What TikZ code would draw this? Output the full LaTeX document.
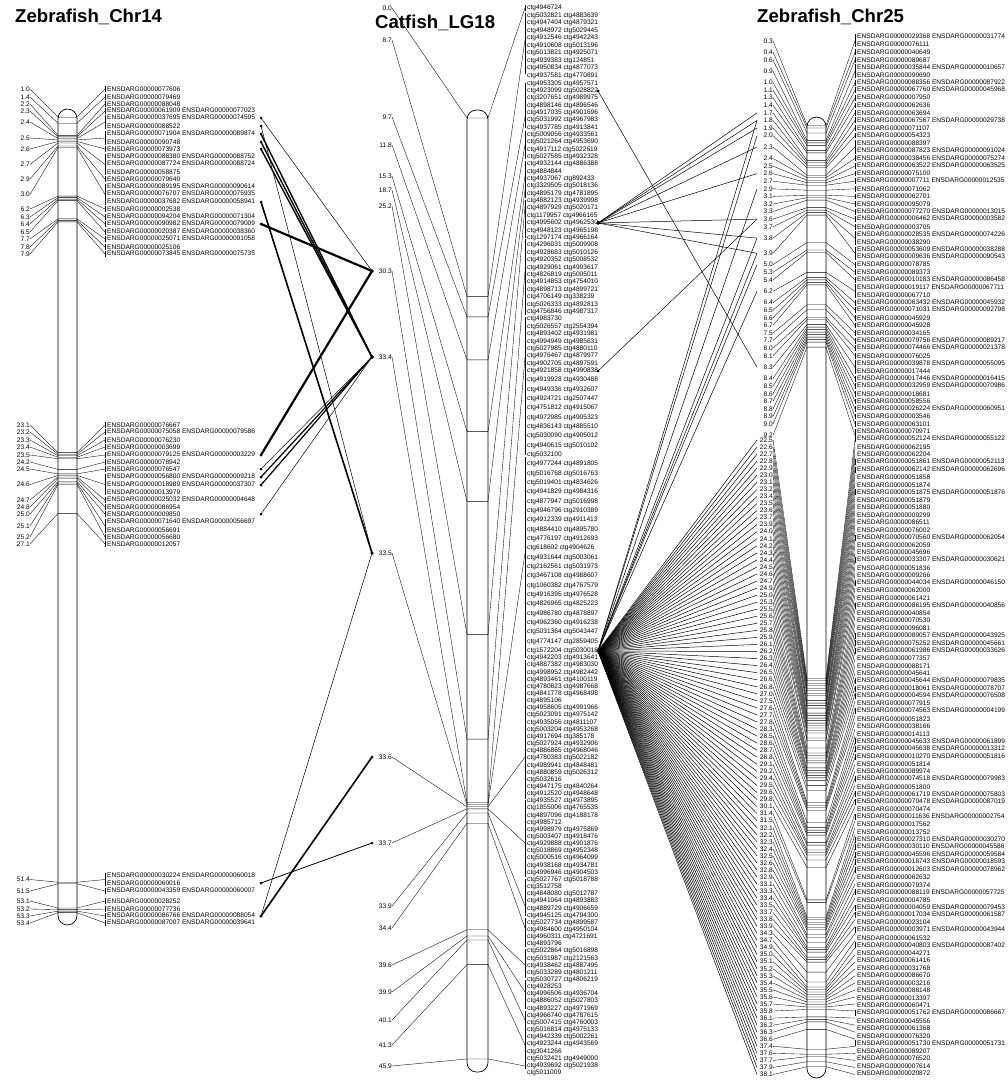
\documentclass[tikz,border=0pt]{standalone}
\usepackage{fontspec}
\setmainfont{Liberation Sans}
\usetikzlibrary{positioning,calc}
\newcommand{\ensd}[1]{ENSDARG00000#1}
\newcommand{\enp}[2]{\llap{\rule[-1.3pt]{0.35pt}{6pt}\hspace{1.6pt}}ENSDARG00000#1 ENSDARG00000#2}

\begin{document}
\begin{tikzpicture}[x=1pt,y=-1pt,
    gene/.style={anchor=west, inner sep=0pt, font=\fontsize{6.6}{7}\selectfont},
    cmpos/.style={anchor=east, inner sep=0pt, font=\fontsize{6.6}{7}\selectfont},
    chrtitle/.style={anchor=west, inner sep=0pt, font=\fontsize{18.6}{20}\selectfont\bfseries},
    chrbody/.style={draw, line width=0.7pt, rounded corners=9.5pt},
    fanline/.style={line width=0.35pt},
    synline/.style={line width=0.5pt},
    syndot/.style={circle, fill=black, inner sep=0pt, minimum size=3pt}
  ]
  \useasboundingbox (0,0) rectangle (1008,1081);

  % Titles
  \node[chrtitle] (t14) at (15,17) {Zebrafish\_Chr14};
  \node[chrtitle] (t18) at (375,23) {Catfish\_LG18};
  \node[chrtitle] (t25) at (757,17) {Zebrafish\_Chr25};

  % dot columns
  \coordinate (dotL) at (261,0);
  \coordinate (dotM) at (372,0);
  \coordinate (dotMR) at (598,0);
  \coordinate (dotR) at (757,0);

  %%% Zebrafish Chr14
  \draw[chrbody] (58,109) rectangle (77,925);
  \foreach \i/\y/\t in {
    1/89/{\ensd{077606}}, 2/97/{\ensd{079469}}, 3/104/{\ensd{088048}},
    4/111/{\enp{061909}{077023}}, 5/118/{\enp{037695}{074595}},
    6/126/{\ensd{088522}}, 7/134/{\enp{071904}{089874}}, 8/142/{\ensd{090748}},
    9/149/{\ensd{073973}}, 10/157/{\enp{088380}{088752}},
    11/164/{\enp{087724}{088724}}, 12/172/{\ensd{058875}}, 13/179/{\ensd{079640}},
    14/187/{\enp{089195}{090614}}, 15/194/{\enp{076707}{075935}},
    16/202/{\enp{037682}{058941}}, 17/209/{\ensd{002538}},
    18/217/{\enp{094204}{071304}}, 19/224/{\enp{090982}{079009}},
    20/232/{\enp{020387}{038360}}, 21/239/{\enp{025071}{091058}},
    22/247/{\ensd{025106}}, 23/254/{\enp{073845}{075735}},
    24/425/{\ensd{076667}}, 25/432/{\enp{075058}{079586}}, 26/440/{\ensd{076230}},
    27/447/{\ensd{003699}}, 28/455/{\enp{079125}{003229}}, 29/462/{\ensd{078942}},
    30/469/{\ensd{076547}}, 31/477/{\enp{056800}{009218}},
    32/485/{\enp{018989}{037307}}, 33/492/{\ensd{013979}},
    34/500/{\enp{025032}{004648}}, 35/507/{\ensd{086954}}, 36/514/{\ensd{009850}},
    37/522/{\enp{071640}{056697}}, 38/530/{\ensd{056691}}, 39/537/{\ensd{056680}},
    40/544/{\ensd{012057}}, 41/876/{\enp{030224}{060018}}, 42/883/{\ensd{060016}},
    43/891/{\enp{043359}{060007}}, 44/901/{\ensd{028252}}, 45/909/{\ensd{077736}},
    46/916/{\enp{086766}{088054}}, 47/923/{\enp{087007}{039641}}}
    \node[gene] (lg\i) at (107,\y) {\t};
  \foreach \i/\p/\a/\b in {1/1.0/89/89, 2/1.4/97/97, 3/2.2/104/104, 4/2.3/111/111,
    5/2.4/118/126, 6/2.5/134/142, 7/2.6/149/149, 8/2.7/157/172, 9/2.9/179/179,
    10/3.0/187/202, 11/6.2/209/209, 12/6.3/217/217, 13/6.4/224/224, 14/6.5/232/232,
    15/7.7/239/239, 16/7.8/247/247, 17/7.9/254/254, 18/23.1/425/425, 19/23.2/432/432,
    20/23.3/440/440, 21/23.4/447/447, 22/23.5/455/455, 23/24.2/462/462, 24/24.5/469/469,
    25/24.6/477/492, 26/24.7/500/500, 27/24.8/507/507, 28/25.0/514/514, 29/25.1/522/530,
    30/25.2/537/537, 31/27.1/544/544, 32/51.4/876/883, 33/51.5/891/891, 34/53.1/901/901,
    35/53.2/909/909, 36/53.3/916/916, 37/53.4/923/923} {
    \pgfmathsetmacro{\ym}{102+15.18*\p}
    \pgfmathsetmacro{\yn}{(\a+\b)/2}
    \node[cmpos] (lp\i) at (30,\yn) {\p};
    \coordinate (lm\i) at (58,\ym);
    \draw[fanline] (lp\i.east) -- (lm\i) -- ++(19,0) -- (105,\yn);
    \draw[fanline] (105,\a-2.8) -- (105,\b+2.8);
  }

  %%% Catfish LG18
  \draw[chrbody] (467,110) rectangle (488,1072);
  \foreach \t [count=\i] in {ctg4946724, {ctg5032821 ctg4883639}, {ctg4947404 ctg4879321},
    {ctg4948972 ctg5029445}, {ctg4912546 ctg4942243}, {ctg4910608 ctg5013196},
    {ctg5013821 ctg4925071}, {ctg4939383 ctg124851}, {ctg4950834 ctg4877073},
    {ctg4937581 ctg4770891}, {ctg4953305 ctg4957571}, {ctg4923099 ctg5028822},
    {ctg3207651 ctg4989975}, {ctg4898146 ctg4896546}, {ctg4917035 ctg4901696},
    {ctg5031992 ctg4967983}, {ctg4937785 ctg4913841}, {ctg5009056 ctg4933561},
    {ctg5021264 ctg4953690}, {ctg4917112 ctg5022619}, {ctg5027585 ctg4932328},
    {ctg4932144 ctg4886388}, ctg4884844, {ctg4937067 ctg892433}, {ctg3329505 ctg5018136},
    {ctg4895179 ctg4781895}, {ctg4882123 ctg4939998}, {ctg4897929 ctg5020171},
    {ctg1179957 ctg4966165}, {ctg4995602 ctg4962530}, {ctg4948123 ctg4965198},
    {ctg1297174 ctg4966164}, {ctg4296031 ctg5009908}, {ctg4928683 ctg5010126},
    {ctg4920352 ctg5008532}, {ctg4929061 ctg4993617}, {ctg4826819 ctg5005011},
    {ctg4914853 ctg4754010}, {ctg4898713 ctg4899721}, {ctg4706149 ctg338239},
    {ctg5026333 ctg4892813}, {ctg4756846 ctg4987317}, ctg4983730,
    {ctg5026557 ctg2554394}, {ctg4893402 ctg4931981}, {ctg4994949 ctg4985631},
    {ctg5027985 ctg4880110}, {ctg4976467 ctg4879977}, {ctg4902705 ctg4897591},
    {ctg4921858 ctg4990838}, {ctg4919928 ctg4930488}, {ctg4949336 ctg4932607},
    {ctg4924721 ctg2507447}, {ctg4751812 ctg4915067}, {ctg4972985 ctg4905323},
    {ctg4836143 ctg4885510}, {ctg5030090 ctg4905012}, {ctg4940615 ctg5010102},
    ctg5032100, {ctg4977244 ctg4891805}, {ctg5016768 ctg5016763}, {ctg5019401 ctg4834626},
    {ctg4941829 ctg4984316}, {ctg4877947 ctg5016998}, {ctg4946796 ctg2910389},
    {ctg4912339 ctg4911413}, {ctg4884410 ctg4895780}, {ctg4776197 ctg4912693},
    {ctg618602 ctg4904626}, {ctg4931644 ctg5003061}, {ctg2162561 ctg5031973},
    {ctg3467108 ctg4988607}, {ctg1060382 ctg4767579}, {ctg4916395 ctg4976528},
    {ctg4826965 ctg4825223}, {ctg4986780 ctg4878897}, {ctg4962360 ctg4916238},
    {ctg5031364 ctg5043447}, {ctg4774147 ctg2859405}, {ctg1572204 ctg5030018},
    {ctg4942203 ctg4913641}, {ctg4887382 ctg4983030}, {ctg4998952 ctg4982442},
    {ctg4893461 ctg4100119}, {ctg4780823 ctg4987668}, {ctg4841778 ctg4968498},
    ctg4895106, {ctg4958605 ctg4991966}, {ctg5023091 ctg4975142}, {ctg4935056 ctg4811107},
    {ctg5003204 ctg4953268}, {ctg4917694 ctg385178}, {ctg5027924 ctg4932906},
    {ctg4886865 ctg4968046}, {ctg4780383 ctg5022182}, {ctg4989941 ctg4848481},
    {ctg4880859 ctg5026312}, ctg5032616, {ctg4947175 ctg4840264}, {ctg4912520 ctg4948648},
    {ctg4935527 ctg4973895}, {ctg1855006 ctg4765535}, {ctg4897096 ctg4188178}, ctg4985712,
    {ctg4998979 ctg4975869}, {ctg5003407 ctg4918476}, {ctg4929888 ctg4901876},
    {ctg5018869 ctg4952348}, {ctg5000516 ctg4964099}, {ctg4938168 ctg4934781},
    {ctg4996946 ctg4904503}, {ctg5027767 ctg5018788}, ctg3512758, {ctg4848080 ctg5012787},
    {ctg4941064 ctg4893883}, {ctg4889729 ctg4906659}, {ctg4945125 ctg4794300},
    {ctg5027734 ctg4899587}, {ctg4984600 ctg4950104}, {ctg4960311 ctg4721691}, ctg4893796,
    {ctg5022864 ctg5016898}, {ctg5031987 ctg2121563}, {ctg4938462 ctg4887495},
    {ctg5033289 ctg4801211}, {ctg5030727 ctg4806219}, ctg4928253, {ctg4996506 ctg4936704},
    {ctg4886052 ctg5027803}, {ctg4893227 ctg4971969}, {ctg4966740 ctg4787615},
    {ctg5007415 ctg4760003}, {ctg5016814 ctg4975133}, {ctg4942339 ctg5002261},
    {ctg4923244 ctg4943569}, ctg3041266, {ctg5032421 ctg4949000}, {ctg4939692 ctg5021938},
    ctg5011009} {
    \pgfmathsetmacro{\y}{\i<=12 ? 8+(\i-1)*7.545 : (\i<=30 ? 91+(\i-12)*7.333 :
      (\i<=50 ? 223+(\i-30)*7.4 : (\i<=80 ? 371+(\i-50)*9.333 : 651+(\i-80)*7.15)))}
    \node[gene] (mg\i) at (527,\y) {\t};
  }
  \foreach \i/\p/\yn/\a/\b in {1/0.0/8/8/8, 2/8.7/40/16/71, 3/9.7/117/86/125,
    4/11.8/145/134/156, 5/15.3/176/164/180, 6/18.7/190/186/195, 7/25.2/206/203/235,
    8/30.3/271/242/312, 9/33.4/357/320/452, 10/33.5/553/460/655, 11/33.6/757/663/796,
    12/33.7/843/803/874, 13/33.9/906/882/913, 14/34.4/928/921/944, 15/39.6/965/952/975,
    16/39.9/992/983/1006, 17/40.1/1020/1014/1030, 18/41.3/1045/1036/1055,
    19/45.9/1066/1060/1066} {
    \pgfmathsetmacro{\ym}{118+20.5*\p}
    \node[cmpos] (mp\i) at (392,\yn) {\p};
    \coordinate (mm\i) at (467,\ym);
    \draw[fanline] (mp\i.east) -- (mm\i) -- ++(21,0) -- (525,\yn);
    \draw[fanline] (525,\a-2.8) -- (525,\b+2.8);
  }

  %%% Zebrafish Chr25
  \draw[chrbody] (807,117) rectangle (826,1078);
  \foreach \t [count=\i] in {{\enp{029368}{031774}}, {\ensd{076111}}, {\ensd{040649}},
    {\ensd{089687}}, {\enp{035844}{010657}}, {\ensd{090690}}, {\enp{088356}{087922}},
    {\enp{067760}{045968}}, {\ensd{007950}}, {\ensd{062636}}, {\ensd{063694}},
    {\enp{067567}{029738}}, {\ensd{071107}}, {\ensd{054323}}, {\ensd{088397}},
    {\enp{087823}{091024}}, {\enp{038456}{075274}}, {\enp{063522}{063525}},
    {\ensd{075100}}, {\enp{007711}{012535}}, {\ensd{071062}}, {\ensd{062701}},
    {\ensd{095079}}, {\enp{077270}{013015}}, {\enp{006462}{003582}},
    {\ensd{003705}}, {\enp{028535}{074226}}, {\ensd{038290}}, {\enp{053609}{038288}},
    {\enp{009636}{090543}}, {\ensd{078785}}, {\ensd{089373}}, {\enp{010183}{086458}},
    {\enp{019117}{067711}}, {\ensd{067710}}, {\enp{063432}{045932}},
    {\enp{071031}{092798}}, {\ensd{045929}}, {\ensd{045928}}, {\ensd{034165}},
    {\enp{079756}{089217}}, {\enp{074466}{021378}}, {\ensd{076025}},
    {\enp{039878}{055095}}, {\ensd{017444}}, {\enp{017446}{016415}},
    {\enp{032959}{070986}}, {\ensd{018681}}, {\ensd{058556}}, {\enp{026224}{060951}},
    {\ensd{003546}}, {\ensd{063101}}, {\ensd{070971}}, {\enp{052124}{055122}},
    {\ensd{062195}}, {\ensd{062204}}, {\enp{051861}{052113}}, {\enp{062142}{062696}},
    {\ensd{051858}}, {\ensd{051874}}, {\enp{051875}{051876}}, {\ensd{051879}},
    {\ensd{051880}}, {\ensd{009299}}, {\ensd{086511}}, {\ensd{076002}},
    {\enp{070560}{062054}}, {\ensd{062059}}, {\ensd{045696}}, {\enp{033307}{030621}},
    {\ensd{051836}}, {\ensd{009266}}, {\enp{044034}{046150}}, {\ensd{062000}},
    {\ensd{061421}}, {\enp{086195}{040856}}, {\ensd{040854}}, {\ensd{070530}},
    {\ensd{096081}}, {\enp{089057}{043925}}, {\enp{075252}{045661}},
    {\enp{061986}{033626}}, {\ensd{077357}}, {\ensd{088171}}, {\ensd{045641}},
    {\enp{045644}{079835}}, {\enp{018061}{078707}}, {\enp{004594}{076508}},
    {\ensd{077915}}, {\enp{074563}{004199}}, {\ensd{051823}}, {\ensd{038166}},
    {\ensd{014113}}, {\enp{045633}{061899}}, {\enp{045638}{013312}},
    {\enp{010270}{051816}}, {\ensd{051814}}, {\ensd{089974}}, {\enp{074518}{079983}},
    {\ensd{051800}}, {\enp{061719}{075803}}, {\enp{070478}{087019}},
    {\ensd{070474}}, {\enp{011636}{002754}}, {\ensd{017562}}, {\ensd{013752}},
    {\enp{027310}{030270}}, {\enp{030110}{045586}}, {\enp{045596}{059584}},
    {\enp{018743}{018593}}, {\enp{012603}{078962}}, {\ensd{062632}},
    {\ensd{079374}}, {\enp{088119}{057725}}, {\ensd{004785}}, {\enp{004059}{079453}},
    {\enp{017034}{061587}}, {\ensd{023104}}, {\enp{003971}{043944}},
    {\ensd{061532}}, {\enp{040803}{087402}}, {\ensd{044271}}, {\ensd{061416}},
    {\ensd{031768}}, {\ensd{086670}}, {\ensd{003216}}, {\ensd{088148}}, {\ensd{013397}},
    {\ensd{060471}}, {\enp{051762}{086667}}, {\ensd{045556}}, {\ensd{061368}},
    {\ensd{076320}}, {\enp{051730}{051731}}, {\ensd{089207}}, {\ensd{076520}},
    {\ensd{007614}}, {\ensd{020872}}} {
    \pgfmathsetmacro{\y}{\i<=54 ? 37+(\i-1)*7.59 : 447+(\i-55)*7.55}
    \node[gene] (rg\i) at (857,\y) {\t};
  }
  % positions 0.3 - 9.2: label lines a..b
  \foreach \i/\p/\a/\b in {1/0.3/1/2, 2/0.4/3/3, 3/0.6/4/4, 4/0.9/5/6, 5/1.0/7/7,
    6/1.1/8/8, 7/1.3/9/9, 8/1.4/10/10, 9/1.7/11/11, 10/1.8/12/12, 11/1.9/13/13,
    12/2.0/14/14, 13/2.3/15/16, 14/2.4/17/17, 15/2.5/18/18, 16/2.6/19/19, 17/2.7/20/20,
    18/2.9/21/21, 19/3.1/22/22, 20/3.2/23/23, 21/3.3/24/24, 22/3.6/25/25, 23/3.7/26/26,
    24/3.8/27/28, 25/3.9/29/30, 26/5.0/31/31, 27/5.3/32/32, 28/5.4/33/33, 29/6.2/34/35,
    30/6.4/36/36, 31/6.5/37/37, 32/6.6/38/38, 33/6.7/39/39, 34/7.5/40/40, 35/7.7/41/41,
    36/8.0/42/42, 37/8.1/43/43, 38/8.3/44/45, 39/8.4/46/46, 40/8.5/47/47, 41/8.6/48/48,
    42/8.7/49/49, 43/8.8/50/50, 44/8.9/51/51, 45/9.0/52/52, 46/9.2/53/54} {
    \pgfmathsetmacro{\ya}{37+(\a-1)*7.59}
    \pgfmathsetmacro{\yb}{37+(\b-1)*7.59}
    \pgfmathsetmacro{\yn}{(\ya+\yb)/2}
    \pgfmathsetmacro{\ym}{118+24.9*\p}
    \node[cmpos] (rp\i) at (773,\yn) {\p};
    \coordinate (rm\i) at (807,\ym);
    \draw[fanline] (rp\i.east) -- (rm\i) -- ++(19,0) -- (855,\yn);
    \draw[fanline] (855,\ya-2.8) -- (855,\yb+2.8);
  }
  % positions 22.5 - 38.1
  \foreach \p [count=\i] in {22.5,22.6,22.7,22.8,22.9,23.0,23.1,23.2,23.4,23.5,23.6,23.7,
    23.9,24.0,24.1,24.2,24.3,24.4,24.5,24.6,24.7,24.9,25.0,25.3,25.5,25.6,25.7,25.8,25.9,
    26.1,26.2,26.3,26.4,26.5,26.6,26.8,27.0,27.5,27.6,27.7,27.8,28.3,28.5,28.6,28.7,28.8,
    29.1,29.2,29.4,29.5,29.6,29.8,30.1,31.4,31.5,32.1,32.2,32.3,32.4,32.5,32.6,32.8,32.9,
    33.1,33.3,33.4,33.5,33.7,33.8,33.9,34.3,34.7,34.9,35.0,35.1,35.2,35.3,35.4,35.5,35.6,
    35.7,35.8,36.1,36.2,36.3,36.6,37.4,37.6,37.7,37.9,38.1} {
    \pgfmathsetmacro{\yn}{440+(\i-1)*7.05}
    \pgfmathsetmacro{\ym}{118+24.9*\p}
    \node[cmpos] (rq\i) at (773,\yn) {\p};
    \coordinate (rn\i) at (807,\ym);
    \draw[fanline] (rq\i.east) -- (rn\i) -- ++(19,0) -- (855,\yn);
  }

  %%% Synteny links Chr14 - LG18
  \foreach \a/\b/\w in {5/8/0.5, 6/10/0.5, 7/9/1.4, 8/9/1.4, 9/9/1.4, 16/10/1.6,
    19/8/2.2, 28/8/2.2, 30/9/0.5, 31/9/1.2, 32/9/1.2, 36/9/0.5, 42/12/0.8,
    46/10/0.5, 46/11/1.6} {
    \draw[line width=\w pt] (lg\a.east -| dotL) -- (mp\b.west -| dotM);
    \node[syndot] at (lg\a.east -| dotL) {};
    \node[syndot] at (mp\b.west -| dotM) {};
  }

  %%% Synteny links LG18 - Chr25
  \foreach \a/\b in {12/38, 30/9, 30/10, 30/11, 30/13, 30/16, 30/22, 30/24, 30/25,
    50/22, 80/10, 80/12, 80/18, 80/24, 80/25, 80/26, 80/29} {
    \draw[synline] (mg\a.east -| dotMR) -- (rp\b.west -| dotR);
    \node[syndot] at (mg\a.east -| dotMR) {};
  }
  \foreach \b in {1,2,...,91} {
    \draw[synline] (mg80.east -| dotMR) -- (rq\b.west -| dotR);
  }
\end{tikzpicture}
\end{document}
